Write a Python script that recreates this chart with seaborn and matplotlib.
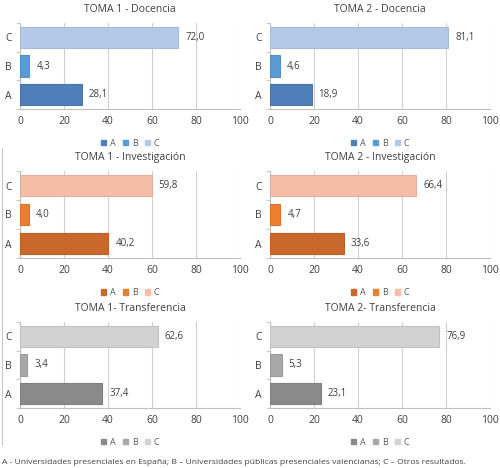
import seaborn as sns
from matplotlib import pyplot as plt
from matplotlib.patches import Patch
from matplotlib.lines import Line2D
import pandas as pd

categories = ["C", "B", "A"]

docencia_t1 = [72.0, 4.3, 28.1]
docencia_t2 = [81.1, 4.6, 18.9]
investigacion_t1 = [59.8, 4.0, 40.2]
investigacion_t2 = [66.4, 4.7, 33.6]
transferencia_t1 = [62.6, 3.4, 37.4]
transferencia_t2 = [76.9, 5.3, 23.1]

titles = [
    "TOMA 1 - Docencia", "TOMA 2 - Docencia",
    "TOMA 1 - Investigación", "TOMA 2 - Investigación",
    "TOMA 1- Transferencia", "TOMA 2- Transferencia",
]

blues = {"A": "#4f7fb8", "B": "#5b9bd5", "C": "#b4c9e8"}
oranges = {"A": "#c8682c", "B": "#ed7d31", "C": "#f6bea8"}
greys = {"A": "#8a8a8a", "B": "#a8a8a8", "C": "#d2d2d2"}

panels = [
    (docencia_t1, blues), (docencia_t2, blues),
    (investigacion_t1, oranges), (investigacion_t2, oranges),
    (transferencia_t1, greys), (transferencia_t2, greys),
]

# axes positions in pixels: left, top, bottom (image coords)
lefts = [20, 270]
rows = [(23, 109), (171, 258), (322, 408)]
W, H = 500, 468

plt.rcParams['font.family'] = ['Open Sans', 'DejaVu Sans']
fig = plt.figure(figsize=(5, 4.68), dpi=100)

for i, (values, pal) in enumerate(panels):
    r, c = divmod(i, 2)
    top, bot = rows[r]
    ax = fig.add_axes([lefts[c] / W, 1 - bot / H, 220 / W, (bot - top) / H])
    df = pd.DataFrame({"cat": categories, "val": values})
    sns.barplot(data=df, x="val", y="cat", hue="cat", palette=pal,
                order=categories, hue_order=categories, orient="h",
                width=0.75, saturation=1, legend=False, ax=ax, zorder=3)
    for p in ax.patches:
        fc = p.get_facecolor()
        p.set_edgecolor(tuple(v * 0.92 for v in fc[:3]))
        p.set_linewidth(0.8)
    for cont in ax.containers:
        ax.bar_label(cont, labels=[f"{v:.1f}".replace(".", ",") for v in cont.datavalues],
                     padding=5, fontsize=7, color="#404040")
    ax.set_xlim(0, 100)
    ax.set_xticks([0, 20, 40, 60, 80, 100])
    ax.set_yticks([-0.5, 0.5, 1.5, 2.5], minor=True)
    ax.grid(axis="x", color="#d0d0d0", linewidth=0.8, zorder=0)
    ax.set_xlabel("")
    ax.set_ylabel("")
    ax.set_title(titles[i], fontsize=7.5, color="#404040", pad=8)
    for s in ["top", "right"]:
        ax.spines[s].set_visible(False)
    ax.spines["left"].set_color("#bfbfbf")
    ax.spines["bottom"].set_color("#bfbfbf")
    ax.tick_params(axis="x", length=0, labelsize=7.5, colors="#404040", pad=5)
    ax.tick_params(axis="y", length=0, labelsize=7.5, colors="#404040", pad=6)
    ax.tick_params(axis="y", which="minor", length=3, color="#bfbfbf")
    handles = [Patch(color=pal[k]) for k in ["A", "B", "C"]]
    ax.legend(handles, ["A", "B", "C"], loc="upper center",
              bbox_to_anchor=(0.5, -0.25), ncol=3, frameon=False,
              fontsize=6.5, handlelength=0.6, handleheight=0.6,
              handletextpad=0.4, columnspacing=0.8, labelcolor="#595959")

fig.add_artist(Line2D([2 / W, 2 / W], [1 - 148 / H, 1 - 445 / H],
                      color="#c8c8c8", linewidth=0.8))

fig.text(0.005, 1 - 462 / H,
         "A - Universidades presenciales en España; B – Universidades públicas "
         "presenciales valencianas; C – Otros resultados.",
         fontsize=6.1, color="#404040", va="center")

fig.savefig("out.png", dpi=100)
